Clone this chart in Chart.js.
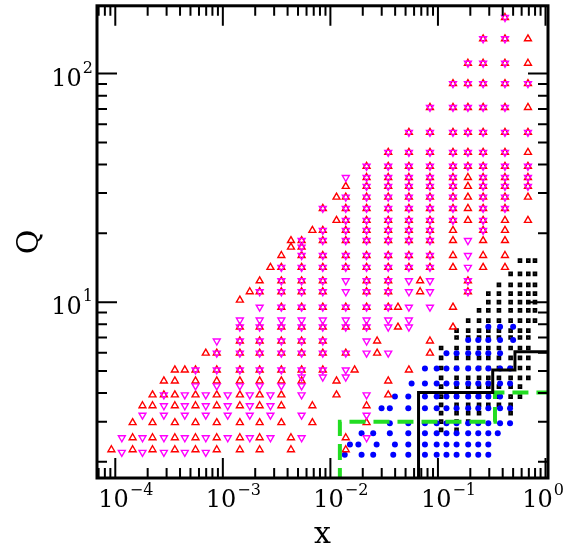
<!DOCTYPE html>
<html><head><meta charset="utf-8">
<script src="https://cdn.jsdelivr.net/npm/chart.js@4/dist/chart.umd.min.js"></script>
<style>html,body{margin:0;padding:0;background:#fff}#w{width:567px;height:549px}</style>
</head><body><div id="w"><canvas id="c"></canvas></div>
<script>
// x grid columns of the measurement points
const xCols = [9.2e-5,1.15e-4,1.45e-4,1.79e-4,2.22e-4,2.83e-4,3.58e-4,4.43e-4,5.57e-4,6.94e-4,
  8.78e-4,1.11e-3,1.44e-3,1.78e-3,2.2e-3,2.77e-3,3.5e-3,4.3e-3,5.4e-3,6.8e-3,
  8.5e-3,0.0114,0.0139,0.0168,0.0217,0.0272,0.0345,0.0425,0.0537,0.0683,
  0.0843,0.138,0.19,0.263,0.42,0.687];
// red up-triangles: [Q, column indices]
const redRows = [
 [2.26,[0,2,4,6,8,10,12,14,17,22]],[2.55,[2,4,6,8,10,12,14,17,22]],
 [2.97,[2,4,6,8,10,12,14,16,19,24]],[3.52,[3,4,6,8,10,12,14,16,19,24]],
 [3.93,[4,5,6,8,10,12,14,16,21,26]],[4.52,[5,6,8,10,12,14,16,18,21,26]],
 [5.05,[6,7,8,10,12,14,16,18,20,23,28]],[5.98,[9,10,12,14,16,18,20,22,25,30]],
 [6.76,[12,14,16,18,20,25,30]],[7.78,[12,14,16,18,20,22,24,27,31]],
 [9.5,[16,18,20,22,24,26,27,31]],[10.2,[12]],
 [11.1,[13,14,16,18,20,24,26,29,32]],[12.4,[14,16,18,20,24,26,29,32]],
 [14.2,[15,16,18,20,22,24,26,28,30,31,33,34]],[16,[16,18,20,22,24,26,28,30,31,33,34]],
 [17.4,[17,18]],[18.6,[17,18,20,22,24,26,28,30,31,33,34]],
 [20.6,[19,20,22,24,26,28,30,31,33,34]],[22.8,[21,22,24,26,28,30,31,32,33,34,35]],
 [25.7,[20,22,24,26,28,30,31,32,33,34]],[28.8,[21,22,24,26,28,30,31,32,33,34,35]],
 [32.1,[22,24,26,28,30,31,32,33,34,35]],[35.1,[24,26,28,30,31,32,33,34,35]],
 [39.3,[24,26,28,30,31,32,33,34,35]],[45.2,[26,28,30,31,32,33,34,35]],
 [55.3,[28,30,31,32,33,34,35]],[71.1,[30,31,32,33,34,35]],
 [90.4,[31,32,33,34,35]],[111,[32,33,34,35]],[142,[33,34,35]],[176,[34]]
];
// magenta down-triangles
const magRows = [
 [2.2,[1,3,5,7,9]],[2.55,[1,3,5,7,9,11,13,15,18,24]],[3.2,[3,5,7,9,11,13,15,18,24]],
 [3.52,[5,7,9,11,13,15]],[3.93,[5,7,9,11,13,15,18,24]],[4.3,[8,10,12,14,16,18]],
 [4.7,[18,20,22]],[5.05,[8,10,12,14,16,18,20,22]],[5.98,[10,12,14,16,18,20,22,24,26]],
 [6.76,[10,12,14,16,18,20,24]],[7.78,[12,14,16,18,20,22,24,26,28]],
 [8.35,[12,14,16,18,20,22,24,26,28]],[9.5,[14,16,18,20,22,24,26,28,30]],
 [11.1,[14,16,18,20,22,24,26,28,30,32]],[12.4,[16,18,20,22,24,26,28,30,32]],
 [14.2,[16,18,20,22,24,26,28,30,32]],[16,[18,20,22,24,26,28,30,32]],[17.4,[18]],
 [18.6,[18,20,22,24,26,28,30,32]],[20.6,[20,22,24,26,28,30,33]],
 [22.8,[22,24,26,28,30,31,33]],[25.7,[20,22,24,26,28,30,31,33,34]],
 [28.8,[22,24,26,28,30,31,33,34]],[32.1,[24,26,28,30,31,33,34,35]],
 [35.1,[22,24,26,28,30,31,33,34,35]],[39.3,[24,26,28,30,31,32,33,34,35]],
 [45.2,[26,28,30,31,32,33,34]],[55.3,[28,30,31,32,33,34,35]],
 [71.1,[30,31,32,33,34]],[90.4,[31,32,33,34,35]],[111,[32,33,34]],[142,[33,34]],[176,[34]]
];
// blue dots: [Q, x values]
const blueRows = [
 [2.15,[.0136,.0195,.025,.0384,.053,.0757,.0973,.12,.149,.191,.237,.294]],
 [2.38,[.0152,.0182,.0269,.0398,.053,.0757,.0973,.12,.149,.191,.237,.294]],
 [2.67,[.0195,.025,.0357,.053,.0757,.0973,.12,.149,.191,.237,.294,.36]],
 [2.95,[.0357,.053,.0757,.0973,.12,.149,.191,.237,.294,.378,.468]],
 [3.43,[.0299,.0357,.053,.0757,.0973,.12,.149,.191,.237,.294,.378,.468]],
 [3.86,[.0398,.053,.0757,.0973,.12,.149,.191,.237,.294,.378]],
 [4.41,[.0569,.0757,.0973,.12,.149,.191,.237,.294,.378,.468]],
 [5.13,[.0757,.0973,.12,.149,.191,.237,.294,.378,.468]],
 [5.97,[.12,.149,.191,.237,.294,.378]],
 [6.82,[.191,.237,.294,.378,.5]],
 [7.8,[.294,.378,.5]]
];
// black squares: columns x and their Q values
const blackQ = [15.2,13.3,11.9,10.9,10,9.2,8.3,7.5,7.0,6.3,5.7,5.15,4.66,4.27,3.86,3.55,3.27,3.0,2.76];
const blackCols = [[0.107,9,18],[0.149,7,18],[0.191,6,17],[0.241,5,16],[0.294,3,15],
  [0.369,2,15],[0.474,1,16],[0.579,0,14],[0.692,0,12],[0.798,0,6]];
// boundary lines
const blackLineX = [0.066,0.066,0.323,0.323,0.52,0.52,1.1];
const blackLineQ = [1.6,4.02,4.02,5.05,5.05,6.06,6.06];
const greenLineX = [0.01225,0.01225,0.339,0.339,1.1];
const greenLineQ = [1.6,3.0,3.0,4.02,4.02];
const xTicks = [-4,-3,-2,-1,0];
const yTicks = [1,2];

const pts = (rows)=>rows.flatMap(([q,cs])=>cs.map(i=>({x:xCols[i],y:q})));
const red = pts(redRows), mag = pts(magRows);
const blue = blueRows.flatMap(([q,xs])=>xs.map(x=>({x,y:q})));
const black = blackCols.flatMap(([x,a,b])=>blackQ.slice(a,b+1).map(q=>({x,y:q})));
const line = (xs,qs)=>xs.map((x,i)=>({x,y:qs[i]}));

const frame = {
 id:'frame',
 afterDraw(ch){
  const c=ch.ctx, a=ch.chartArea, xs=ch.scales.x, ys=ch.scales.y;
  c.save();
  c.strokeStyle='#000'; c.lineWidth=3;
  c.strokeRect(a.left,a.top,a.right-a.left,a.bottom-a.top);
  c.lineWidth=2;
  const tick=(p,len,horiz)=>{
   c.beginPath();
   if(horiz){c.moveTo(a.left,p);c.lineTo(a.left+len,p);c.moveTo(a.right,p);c.lineTo(a.right-len,p);}
   else{c.moveTo(p,a.bottom);c.lineTo(p,a.bottom-len);c.moveTo(p,a.top);c.lineTo(p,a.top+len);}
   c.stroke();
  };
  for(let e=-5;e<=0;e++)for(let m=1;m<10;m++){
   const v=m*Math.pow(10,e); if(v<xs.min||v>xs.max)continue;
   tick(xs.getPixelForValue(v),m===1?20:10,false);
  }
  for(let e=0;e<=2;e++)for(let m=1;m<10;m++){
   const v=m*Math.pow(10,e); if(v<ys.min||v>ys.max)continue;
   tick(ys.getPixelForValue(v),m===1?20:10,true);
  }
  c.fillStyle='#000'; c.textBaseline='alphabetic';
  const big='24px "DejaVu Serif"', sm='16px "DejaVu Serif"';
  xTicks.forEach(e=>{
   const px=xs.getPixelForValue(Math.pow(10,e));
   c.font=big; const w1=c.measureText('10').width;
   c.font=sm; const s=String(e).replace('-','\u2212'); const w2=c.measureText(s).width;
   const x0=px-(w1+w2)/2+ (e===0?-3:10);
   c.font=big; c.fillText('10',x0,507);
   c.font=sm; c.fillText(s,x0+w1+1,495);
  });
  yTicks.forEach(e=>{
   const py=ys.getPixelForValue(Math.pow(10,e));
   c.font=sm; const s=String(e); const w2=c.measureText(s).width;
   c.font=big; const w1=c.measureText('10').width;
   const x0=93-w2-w1-1;
   c.fillText('10',x0,py+12);
   c.font=sm; c.fillText(s,x0+w1+1,py-1);
  });
  c.font='30px "DejaVu Serif"'; c.textAlign='center';
  c.fillText('x',(a.left+a.right)/2,543);
  c.translate(38,(a.top+a.bottom)/2); c.rotate(-Math.PI/2);
  c.fillText('Q',0,0);
  c.restore();
 }
};

new Chart(document.getElementById('c'),{
 type:'scatter',
 data:{datasets:[
  {data:line(greenLineX,greenLineQ),showLine:true,pointRadius:0,borderColor:'#22dd22',borderWidth:4,borderDash:[16,8],clip:true,order:1},
  {data:line(blackLineX,blackLineQ),showLine:true,pointRadius:0,borderColor:'#000',borderWidth:3,clip:true,order:0},
  {data:black,pointStyle:'rect',pointRadius:2,borderColor:'#000',borderWidth:1.8,backgroundColor:'#444',order:5},
  {data:blue,pointStyle:'circle',pointRadius:3,borderColor:'#0000ff',backgroundColor:'#0000ff',borderWidth:0,order:4},
  {data:red,pointStyle:'triangle',pointRadius:4,borderColor:'#ff0000',backgroundColor:'rgba(0,0,0,0)',borderWidth:1.4,order:3},
  {data:mag,pointStyle:'triangle',rotation:180,pointRadius:4,borderColor:'#ff00ff',backgroundColor:'rgba(0,0,0,0)',borderWidth:1.4,order:2}
 ]},
 options:{
  responsive:true,maintainAspectRatio:false,animation:false,
  layout:{padding:{left:97,right:19,top:5,bottom:71}},
  plugins:{legend:{display:false},tooltip:{enabled:false}},
  scales:{
   x:{type:'logarithmic',min:6.76e-5,max:1.055,display:false},
   y:{type:'logarithmic',min:1.70,max:198,display:false}
  }
 },
 plugins:[frame]
});
</script></body></html>
